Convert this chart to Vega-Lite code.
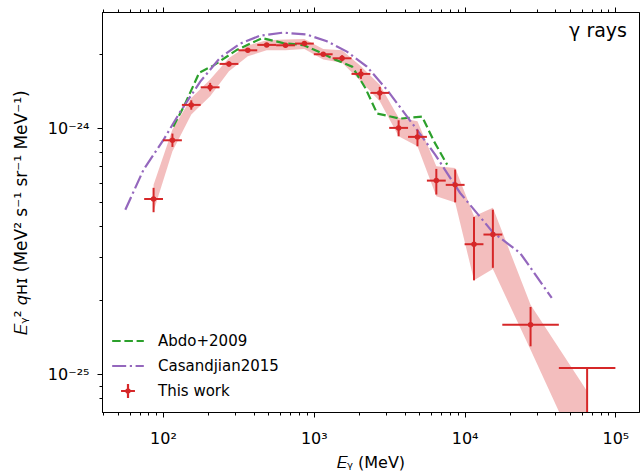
{
  "$schema": "https://vega.github.io/schema/vega-lite/v6.json",
  "width": 537,
  "height": 400,
  "autosize": {"type": "none"},
  "padding": {"left": 102, "top": 12, "right": 1, "bottom": 59},
  "config": {
    "font": "DejaVu Sans",
    "view": {"stroke": "black", "strokeWidth": 1},
    "axis": {"grid": false, "domainColor": "black", "tickColor": "black", "domainWidth": 1, "tickWidth": 1, "labelColor": "black", "labelFontSize": 16, "titleFontSize": 16, "titleFontWeight": "normal", "titleColor": "black", "labelFlush": false, "labelOverlap": false},
    "legend": {"labelFontSize": 15, "labelColor": "black"}
  },
  "title": {"text": "γ rays", "anchor": "end", "orient": "top", "offset": -28, "dy": 21, "fontSize": 19, "fontWeight": "normal", "color": "black", "dx": -12, "baseline": "alphabetic", "frame": "group"},
  "datasets": {
    "pts": [
      {"E": 86.6, "Elo": 75.0, "Ehi": 100, "F": 5.16e-25, "Flo": 4.56e-25, "Fhi": 5.73e-25, "Blo": 4.60e-25, "Bhi": 5.90e-25, "ul": false},
      {"E": 115.5, "Elo": 100, "Ehi": 133.4, "F": 8.94e-25, "Flo": 8.40e-25, "Fhi": 9.52e-25, "Blo": 8.06e-25, "Bhi": 9.88e-25, "ul": false},
      {"E": 154.0, "Elo": 133.4, "Ehi": 177.8, "F": 1.245e-24, "Flo": 1.19e-24, "Fhi": 1.30e-24, "Blo": 1.137e-24, "Bhi": 1.329e-24, "ul": false},
      {"E": 205.4, "Elo": 177.8, "Ehi": 237.1, "F": 1.468e-24, "Flo": 1.414e-24, "Fhi": 1.53e-24, "Blo": 1.349e-24, "Bhi": 1.578e-24, "ul": false},
      {"E": 273.8, "Elo": 237.1, "Ehi": 316.2, "F": 1.827e-24, "Flo": 1.785e-24, "Fhi": 1.870e-24, "Blo": 1.705e-24, "Bhi": 1.933e-24, "ul": false},
      {"E": 365.2, "Elo": 316.2, "Ehi": 421.7, "F": 2.075e-24, "Flo": 2.036e-24, "Fhi": 2.114e-24, "Blo": 1.962e-24, "Bhi": 2.169e-24, "ul": false},
      {"E": 487.0, "Elo": 421.7, "Ehi": 562.3, "F": 2.183e-24, "Flo": 2.143e-24, "Fhi": 2.224e-24, "Blo": 2.075e-24, "Bhi": 2.279e-24, "ul": false},
      {"E": 649.4, "Elo": 562.3, "Ehi": 749.9, "F": 2.175e-24, "Flo": 2.135e-24, "Fhi": 2.216e-24, "Blo": 2.075e-24, "Bhi": 2.294e-24, "ul": false},
      {"E": 866.0, "Elo": 749.9, "Ehi": 1000, "F": 2.21e-24, "Flo": 2.169e-24, "Fhi": 2.252e-24, "Blo": 2.102e-24, "Bhi": 2.309e-24, "ul": false},
      {"E": 1154.8, "Elo": 1000, "Ehi": 1333.5, "F": 2.00e-24, "Flo": 1.963e-24, "Fhi": 2.038e-24, "Blo": 1.902e-24, "Bhi": 2.102e-24, "ul": false},
      {"E": 1539.9, "Elo": 1333.5, "Ehi": 1778.3, "F": 1.926e-24, "Flo": 1.872e-24, "Fhi": 1.981e-24, "Blo": 1.845e-24, "Bhi": 2.075e-24, "ul": false},
      {"E": 2053.5, "Elo": 1778.3, "Ehi": 2371.4, "F": 1.664e-24, "Flo": 1.588e-24, "Fhi": 1.744e-24, "Blo": 1.552e-24, "Bhi": 1.786e-24, "ul": false},
      {"E": 2738.4, "Elo": 2371.4, "Ehi": 3162.3, "F": 1.393e-24, "Flo": 1.308e-24, "Fhi": 1.474e-24, "Blo": 1.288e-24, "Bhi": 1.505e-24, "ul": false},
      {"E": 3651.7, "Elo": 3162.3, "Ehi": 4217, "F": 1.004e-24, "Flo": 9.28e-25, "Fhi": 1.078e-24, "Blo": 9.28e-25, "Bhi": 1.105e-24, "ul": false},
      {"E": 4869.7, "Elo": 4217, "Ehi": 5623.4, "F": 9.23e-25, "Flo": 8.45e-25, "Fhi": 9.88e-25, "Blo": 8.45e-25, "Bhi": 1.068e-24, "ul": false},
      {"E": 6493.8, "Elo": 5623.4, "Ehi": 7498.9, "F": 6.13e-25, "Flo": 5.38e-25, "Fhi": 6.84e-25, "Blo": 5.29e-25, "Bhi": 7.01e-25, "ul": false},
      {"E": 8659.6, "Elo": 7498.9, "Ehi": 10000, "F": 5.89e-25, "Flo": 5.00e-25, "Fhi": 6.80e-25, "Blo": 5.00e-25, "Bhi": 6.90e-25, "ul": false},
      {"E": 11548, "Elo": 10000, "Ehi": 13335, "F": 3.38e-25, "Flo": 2.41e-25, "Fhi": 4.36e-25, "Blo": 2.41e-25, "Bhi": 4.39e-25, "ul": false},
      {"E": 15399, "Elo": 13335, "Ehi": 17783, "F": 3.70e-25, "Flo": 2.71e-25, "Fhi": 4.67e-25, "Blo": 2.68e-25, "Bhi": 4.75e-25, "ul": false},
      {"E": 27384, "Elo": 17783, "Ehi": 42170, "F": 1.592e-25, "Flo": 1.30e-25, "Fhi": 1.879e-25, "Blo": 1.26e-25, "Bhi": 1.92e-25, "ul": false},
      {"E": 64938, "Elo": 42170, "Ehi": 100000, "F": 1.062e-25, "Flo": 3.0e-26, "Fhi": 1.062e-25, "Blo": 3.97e-26, "Bhi": 8.53e-26, "ul": true}
    ],
    "lines": [
      {"series": "Abdo+2009", "E": 117.0, "F": 1.016e-24},
      {"series": "Abdo+2009", "E": 138.4, "F": 1.237e-24},
      {"series": "Abdo+2009", "E": 174.0, "F": 1.684e-24},
      {"series": "Abdo+2009", "E": 215.4, "F": 1.798e-24},
      {"series": "Abdo+2009", "E": 310.7, "F": 2.088e-24},
      {"series": "Abdo+2009", "E": 455.0, "F": 2.327e-24},
      {"series": "Abdo+2009", "E": 627, "F": 2.22e-24},
      {"series": "Abdo+2009", "E": 851, "F": 2.179e-24},
      {"series": "Abdo+2009", "E": 1070, "F": 2.05e-24},
      {"series": "Abdo+2009", "E": 1386, "F": 1.902e-24},
      {"series": "Abdo+2009", "E": 1797, "F": 1.781e-24},
      {"series": "Abdo+2009", "E": 2191, "F": 1.463e-24},
      {"series": "Abdo+2009", "E": 2632, "F": 1.148e-24},
      {"series": "Abdo+2009", "E": 3737, "F": 1.095e-24},
      {"series": "Abdo+2009", "E": 5229, "F": 1.116e-24},
      {"series": "Abdo+2009", "E": 6280, "F": 8.83e-25},
      {"series": "Abdo+2009", "E": 7656, "F": 7.12e-25},
      {"series": "Casandjian2015", "E": 56.27, "F": 4.67e-25},
      {"series": "Casandjian2015", "E": 74.38, "F": 6.80e-25},
      {"series": "Casandjian2015", "E": 100.9, "F": 8.99e-25},
      {"series": "Casandjian2015", "E": 130.2, "F": 1.169e-24},
      {"series": "Casandjian2015", "E": 176.6, "F": 1.548e-24},
      {"series": "Casandjian2015", "E": 239.8, "F": 1.939e-24},
      {"series": "Casandjian2015", "E": 325.3, "F": 2.21e-24},
      {"series": "Casandjian2015", "E": 441.4, "F": 2.381e-24},
      {"series": "Casandjian2015", "E": 627, "F": 2.449e-24},
      {"series": "Casandjian2015", "E": 900, "F": 2.404e-24},
      {"series": "Casandjian2015", "E": 1221, "F": 2.258e-24},
      {"series": "Casandjian2015", "E": 1658, "F": 2.05e-24},
      {"series": "Casandjian2015", "E": 2249, "F": 1.781e-24},
      {"series": "Casandjian2015", "E": 3051, "F": 1.437e-24},
      {"series": "Casandjian2015", "E": 4823, "F": 9.88e-25},
      {"series": "Casandjian2015", "E": 6377, "F": 7.82e-25},
      {"series": "Casandjian2015", "E": 9337, "F": 5.46e-25},
      {"series": "Casandjian2015", "E": 15520, "F": 3.76e-25},
      {"series": "Casandjian2015", "E": 23330, "F": 3.115e-25},
      {"series": "Casandjian2015", "E": 37840, "F": 2.045e-25}
    ]
  },
  "layer": [
    {
      "data": {"name": "pts"},
      "mark": {"type": "area", "color": "#d62728", "opacity": 0.3, "clip": true},
      "encoding": {
        "x": {"field": "E", "type": "quantitative", "scale": {"type": "log", "domain": [39.4, 143400], "nice": false},
          "axis": {"orient": "bottom", "title": "𝐸ᵧ (MeV)", "values": [40,50,60,70,80,90,100,200,300,400,500,600,700,800,900,1000,2000,3000,4000,5000,6000,7000,8000,9000,10000,20000,30000,40000,50000,60000,70000,80000,90000,100000],
            "labelExpr": "datum.value == 100 ? '10²' : datum.value == 1000 ? '10³' : datum.value == 10000 ? '10⁴' : datum.value == 100000 ? '10⁵' : ''",
            "tickSize": {"condition": {"test": "indexof([100,1000,10000,100000], datum.value) >= 0", "value": 5}, "value": 3},
            "labelPadding": 13, "titlePadding": 8}},
        "y": {"field": "Blo", "type": "quantitative", "scale": {"type": "log", "domain": [7.03e-26, 2.97e-24], "nice": false},
          "axis": {"title": "𝐸ᵧ² 𝑞ʜɪ (MeV² s⁻¹ sr⁻¹ MeV⁻¹)", "titleFontSize": 17, "values": [8e-26,9e-26,1e-25,2e-25,3e-25,4e-25,5e-25,6e-25,7e-25,8e-25,9e-25,1e-24,2e-24],
            "labelExpr": "datum.value == 1e-24 ? '10⁻²⁴' : datum.value == 1e-25 ? '10⁻²⁵' : ''",
            "tickSize": {"condition": {"test": "datum.value == 1e-24 || datum.value == 1e-25", "value": 5}, "value": 3},
            "labelPadding": 8, "titlePadding": 17}},
        "y2": {"field": "Bhi"}
      }
    },
    {
      "data": {"name": "lines"},
      "mark": {"type": "point", "opacity": 0, "filled": false},
      "encoding": {
        "x": {"field": "E", "type": "quantitative", "axis": null},
        "y": {"field": "F", "type": "quantitative"},
        "color": {"field": "series", "type": "nominal",
          "scale": {"domain": ["Abdo+2009", "Casandjian2015", "This work"], "range": ["#2ca02c", "#9467bd", "#d62728"]},
          "legend": {"title": null, "orient": "bottom-left", "offset": 9, "padding": 0, "symbolSize": 1000, "symbolStrokeWidth": 2.2, "symbolOpacity": 1, "labelOffset": 13, "rowPadding": -4}},
        "shape": {"field": "series", "type": "nominal",
          "scale": {"domain": ["Abdo+2009", "Casandjian2015", "This work"], "range": ["M-1,0H-0.462M-0.228,0H0.31M0.544,0H1", "M-1,0H-0.115M0.113,0H0.252M0.48,0H1", "M-0.44,0H0.44M0,-0.45V0.45M0.11,0A0.11,0.11,0,1,1,-0.11,0A0.11,0.11,0,1,1,0.11,0"]},
          "legend": {"title": null, "orient": "bottom-left", "offset": 9, "padding": 0, "symbolSize": 1000, "symbolStrokeWidth": 2.2, "symbolOpacity": 1, "labelOffset": 13, "rowPadding": -4}}
      }
    },
    {
      "data": {"name": "lines"},
      "mark": {"type": "line", "strokeWidth": 2.2, "clip": true},
      "encoding": {
        "x": {"field": "E", "type": "quantitative", "axis": null},
        "y": {"field": "F", "type": "quantitative"},
        "color": {"field": "series", "type": "nominal"},
        "strokeDash": {"field": "series", "type": "nominal",
          "scale": {"domain": ["Abdo+2009", "Casandjian2015", "This work"], "range": [[8.5, 3.7], [14, 3.6, 2.2, 3.6], [1, 0]]}}
      }
    },
    {
      "data": {"name": "pts"},
      "mark": {"type": "rule", "color": "#d62728", "strokeWidth": 2, "clip": true},
      "encoding": {
        "x": {"field": "E", "type": "quantitative", "axis": null},
        "y": {"field": "Flo", "type": "quantitative"},
        "y2": {"field": "Fhi"}
      }
    },
    {
      "data": {"name": "pts"},
      "mark": {"type": "rule", "color": "#d62728", "strokeWidth": 2, "clip": true},
      "encoding": {
        "x": {"field": "Elo", "type": "quantitative", "axis": null},
        "x2": {"field": "Ehi"},
        "y": {"field": "F", "type": "quantitative"}
      }
    },
    {
      "data": {"name": "pts"},
      "transform": [{"filter": "!datum.ul"}],
      "mark": {"type": "point", "filled": true, "size": 30, "color": "#d62728", "opacity": 1},
      "encoding": {
        "x": {"field": "E", "type": "quantitative",
          "axis": {"orient": "top", "title": null, "labels": false, "values": [40,50,60,70,80,90,100,200,300,400,500,600,700,800,900,1000,2000,3000,4000,5000,6000,7000,8000,9000,10000,20000,30000,40000,50000,60000,70000,80000,90000,100000],
            "tickSize": {"condition": {"test": "indexof([100,1000,10000,100000], datum.value) >= 0", "value": 5}, "value": 3}}},
        "y": {"field": "F", "type": "quantitative"}
      }
    }
  ],
  "resolve": {"axis": {"x": "independent"}}
}
